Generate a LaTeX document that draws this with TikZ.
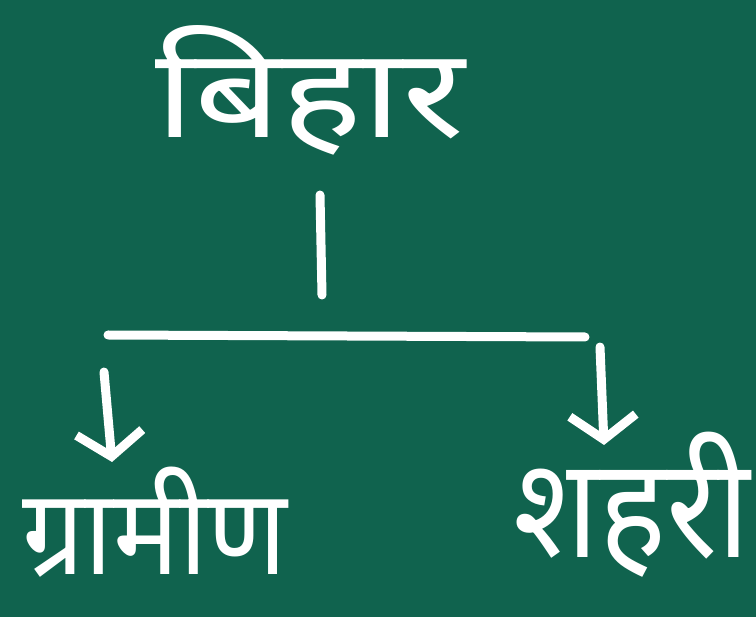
\documentclass[tikz,border=0pt]{standalone}
\usepackage{fontspec}
\newfontfamily\deva[Script=Devanagari]{Noto Sans}
\usetikzlibrary{arrows.meta}
\definecolor{board}{HTML}{10634E}
\tikzset{
  chalk/.style={white, line width=9pt, line cap=round, line join=round},
  arr/.style={chalk, -{Straight Barb[length=24pt,width=66pt,line width=9pt]}},
  txt/.style={white, inner sep=0pt},
}
\begin{document}
\begin{tikzpicture}[x=1pt,y=-1pt]
\fill[board] (0,0) rectangle (756,617);
\useasboundingbox (0,0) rectangle (756,617);
\node[txt, xscale=1.22, font=\deva\fontsize{125}{140}\selectfont] (bihar) at (310,90) {बिहार};
\node[txt, xscale=0.92, font=\deva\fontsize{120}{130}\selectfont] (gram) at (155,522) {ग्रामीण};
\node[txt, xscale=0.9, font=\deva\fontsize{140}{150}\selectfont] (shah) at (632,505) {शहरी};
\coordinate (vtop) at (320,195);
\coordinate (vbot) at (322,295);
\coordinate (hl) at (108,335);
\coordinate (hr) at (585,337);
\coordinate (la) at (104,372);
\coordinate (lt) at (112,462);
\coordinate (ra) at (600,347);
\coordinate (rt) at (604,445);
\draw[chalk] (vtop) -- (vbot);
\draw[chalk] (hl) -- (hr);
\draw[arr] (la) -- (lt);
\draw[arr] (ra) -- (rt);
\end{tikzpicture}
\end{document}
